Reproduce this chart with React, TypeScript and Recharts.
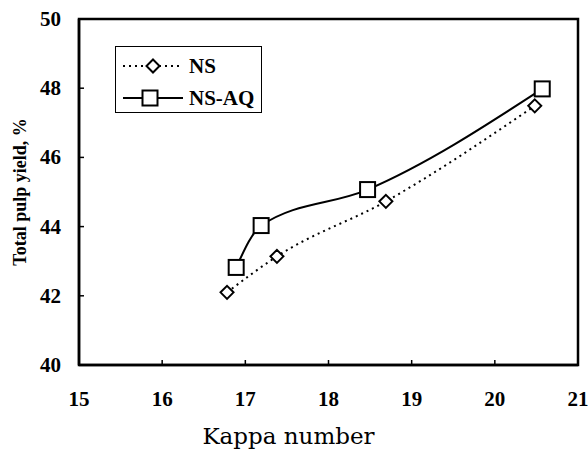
import React from "react";
import { LineChart, Line, XAxis, YAxis, ReferenceArea } from "recharts";

const nsKappa = [16.78, 17.38, 18.69, 20.48];
const nsYield = [42.1, 43.14, 44.73, 47.49];
const aqKappa = [16.89, 17.19, 18.47, 20.57];
const aqYield = [42.82, 44.03, 45.07, 47.98];
const xTicks = [15, 16, 17, 18, 19, 20, 21];
const yTicks = [40, 42, 44, 46, 48, 50];
const seriesNames = ["NS", "NS-AQ"];

const nsData = nsKappa.map((k, i) => ({ kappa: k, yieldNS: nsYield[i] }));
const aqData = aqKappa.map((k, i) => ({ kappa: k, yieldAQ: aqYield[i] }));

const serif = "'Liberation Serif', 'Times New Roman', serif";

const Diamond = (props: any) => {
  const { cx, cy } = props;
  if (cx == null || cy == null) return null;
  const r = 6.5;
  return (
    <path
      d={`M${cx},${cy - r} L${cx + r},${cy} L${cx},${cy + r} L${cx - r},${cy} Z`}
      fill="#fff"
      stroke="#000"
      strokeWidth={2}
    />
  );
};

const Square = (props: any) => {
  const { cx, cy } = props;
  if (cx == null || cy == null) return null;
  const s = 7.5;
  return <rect x={cx - s} y={cy - s} width={2 * s} height={2 * s} fill="#fff" stroke="#000" strokeWidth={2} />;
};

const XTick = (props: any) => {
  const { x, y, payload } = props;
  return (
    <g>
      <line x1={x} y1={y} x2={x} y2={y - 5} stroke="#000" strokeWidth={1.5} />
      <text x={x} y={y + 41} textAnchor="middle" fontFamily={serif} fontWeight="bold" fontSize={21} fill="#000">
        {payload.value}
      </text>
    </g>
  );
};

const YTick = (props: any) => {
  const { x, y, payload } = props;
  return (
    <g>
      <line x1={x} y1={y} x2={x + 5} y2={y} stroke="#000" strokeWidth={1.5} />
      <text x={x - 18} y={y + 7} textAnchor="end" fontFamily={serif} fontWeight="bold" fontSize={21} fill="#000">
        {payload.value}
      </text>
    </g>
  );
};

const LegendBox = () => (
  <div
    style={{
      position: "absolute",
      left: 115,
      top: 46,
      border: "1.5px solid #000",
      width: 147,
      height: 67,
      boxSizing: "border-box",
      background: "#fff",
    }}
  >
    <svg width={144} height={64} style={{ display: "block" }}>
      <line x1={7} y1={19} x2={67} y2={19} stroke="#000" strokeWidth={2} strokeDasharray="2 4" />
      <path d="M37,12.5 L43.5,19 L37,25.5 L30.5,19 Z" fill="#fff" stroke="#000" strokeWidth={2} />
      <text x={73} y={26} fontFamily={serif} fontWeight="bold" fontSize={21} fill="#000">{seriesNames[0]}</text>
      <line x1={7} y1={51} x2={67} y2={51} stroke="#000" strokeWidth={2} />
      <rect x={26.5} y={43.5} width={15} height={15} fill="#fff" stroke="#000" strokeWidth={2} />
      <text x={73} y={58} fontFamily={serif} fontWeight="bold" fontSize={21} fill="#000">{seriesNames[1]}</text>
    </svg>
  </div>
);

export default function App() {
  return (
    <div style={{ position: "absolute", left: 0, top: 0, width: 588, height: 453, background: "#fff" }}>
      <LineChart width={588} height={453} margin={{ top: 19, right: 10, left: 0, bottom: 0 }}>
        <XAxis
          dataKey="kappa"
          type="number"
          domain={[15, 21]}
          ticks={xTicks}
          allowDataOverflow
          height={88}
          tickLine={false}
          tickSize={0}
          tickMargin={0}
          tick={<XTick />}
          axisLine={{ stroke: "#000", strokeWidth: 2.5 }}
          label={{
            value: "Kappa number",
            position: "insideBottom",
            offset: 9,
            dx: -40,
            style: { fontFamily: "'DejaVu Serif', serif", fontSize: 23, fill: "#000" },
          }}
        />
        <YAxis
          type="number"
          domain={[40, 50]}
          ticks={yTicks}
          allowDataOverflow
          width={79}
          tickLine={false}
          tickSize={0}
          tickMargin={0}
          tick={<YTick />}
          axisLine={{ stroke: "#000", strokeWidth: 2.5 }}
          label={{
            value: "Total pulp yield, %",
            angle: -90,
            position: "insideLeft",
            offset: 20,
            style: { fontFamily: serif, fontWeight: "bold", fontSize: 18, fill: "#000", textAnchor: "middle" },
          }}
        />
        <ReferenceArea x1={15} x2={21} y1={40} y2={50} fill="none" stroke="#000" strokeWidth={2.5} ifOverflow="visible" />
        <Line
          data={nsData}
          dataKey="yieldNS"
          name={seriesNames[0]}
          type="monotone"
          stroke="#000"
          strokeWidth={2}
          strokeDasharray="2 4"
          dot={<Diamond />}
          isAnimationActive={false}
        />
        <Line
          data={aqData}
          dataKey="yieldAQ"
          name={seriesNames[1]}
          type="monotone"
          stroke="#000"
          strokeWidth={2}
          dot={<Square />}
          isAnimationActive={false}
        />
      </LineChart>
      <LegendBox />
    </div>
  );
}
